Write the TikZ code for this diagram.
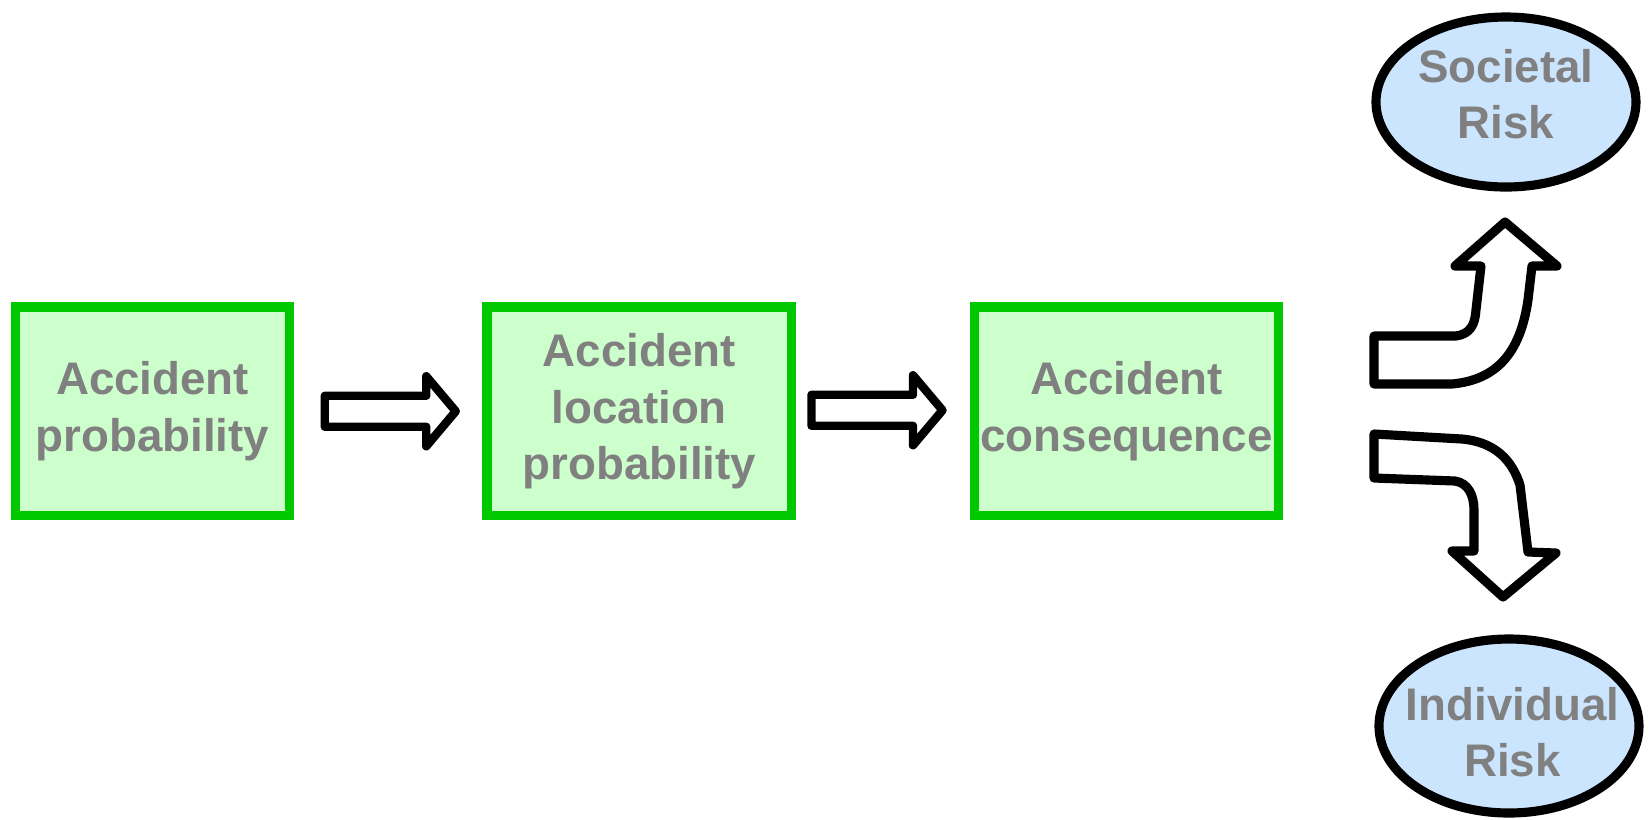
\documentclass[tikz,border=0pt]{standalone}
\usepackage{fontspec}
\setmainfont{Liberation Sans}
\usepackage{xcolor}
\usepackage{tikz}
\usetikzlibrary{shapes.geometric, positioning, calc}

\definecolor{boxgreen}{RGB}{0,200,0}
\definecolor{boxfill}{RGB}{204,255,204}
\definecolor{riskblue}{RGB}{204,229,255}
\definecolor{labelgray}{RGB}{128,128,128}

\tikzset{
  stage/.style={rectangle, draw=boxgreen, fill=boxfill, line width=2.6pt,
    minimum width=2.74cm, minimum height=2.085cm, inner sep=0pt,
    align=center, text=labelgray, font=\bfseries\fontsize{13}{16}\selectfont},
  risk/.style={ellipse, draw=black, fill=riskblue, line width=2.6pt,
    minimum width=2.6cm, minimum height=1.7cm, inner sep=0pt},
  risklabel/.style={align=center, inner sep=0pt, text=labelgray,
    font=\bfseries\fontsize{13}{16}\selectfont},
  blockarrow/.style={draw=black, fill=white, line width=2.4pt, line join=round},
  bentarrow/.style={draw=black, fill=white, line width=2.6pt, line join=round},
  fwd/.pic={
    \draw[blockarrow] (-0.655,0.155) -- (0.36,0.155) -- (0.36,0.35)
      -- (0.655,0) -- (0.36,-0.35) -- (0.36,-0.155) -- (-0.655,-0.155) -- cycle;
  }
}

\begin{document}
\begin{tikzpicture}
  \useasboundingbox (0,0) rectangle (16.5,-8.19);

  % chain of boxes
  \node[stage] (prob) at (1.525,-4.1125) {Accident\\probability};
  \node[stage, minimum width=3.045cm] (loc) at (6.3925,-4.1125) {Accident\\location\\probability};
  \node[stage, minimum width=3.04cm] (cons) at (11.265,-4.1125) {Accident\\consequence};

  \pic (a1) at ($(prob.east)!0.5!(loc.west)+(0.02,0)$) {fwd};
  \pic (a2) at ($(loc.east)!0.5!(cons.west)+(-0.06,0.01)$) {fwd};

  % the two results
  \node[risk] (soc) at (15.06,-1.02) {};
  \node[risklabel, yshift=0.08cm] (soctxt) at (soc) {Societal\\Risk};
  \node[risk, minimum height=1.74cm] (ind) at (15.09,-7.26) {};
  \node[risklabel, xshift=0.035cm, yshift=-0.065cm] (indtxt) at (ind) {Individual\\Risk};

  % bent arrows
  \draw[bentarrow] (13.74,-3.36) -- (14.56,-3.36)
    .. controls (14.70,-3.34) and (14.75,-3.25) .. (14.76,-3.10)
    -- (14.81,-2.66) -- (14.55,-2.66) -- (15.05,-2.22) -- (15.57,-2.66)
    -- (15.32,-2.66) -- (15.28,-3.00)
    .. controls (15.20,-3.55) and (14.95,-3.80) .. (14.52,-3.84)
    -- (13.74,-3.84) -- cycle;
  \draw[bentarrow] (13.74,-4.34) -- (14.62,-4.39)
    .. controls (14.95,-4.42) and (15.12,-4.60) .. (15.20,-4.85)
    -- (15.28,-5.52) -- (15.56,-5.53) -- (15.03,-5.97) -- (14.52,-5.51)
    -- (14.74,-5.51) -- (14.74,-5.10)
    .. controls (14.74,-4.95) and (14.68,-4.83) .. (14.55,-4.81)
    -- (13.74,-4.78) -- cycle;
\end{tikzpicture}
\end{document}
